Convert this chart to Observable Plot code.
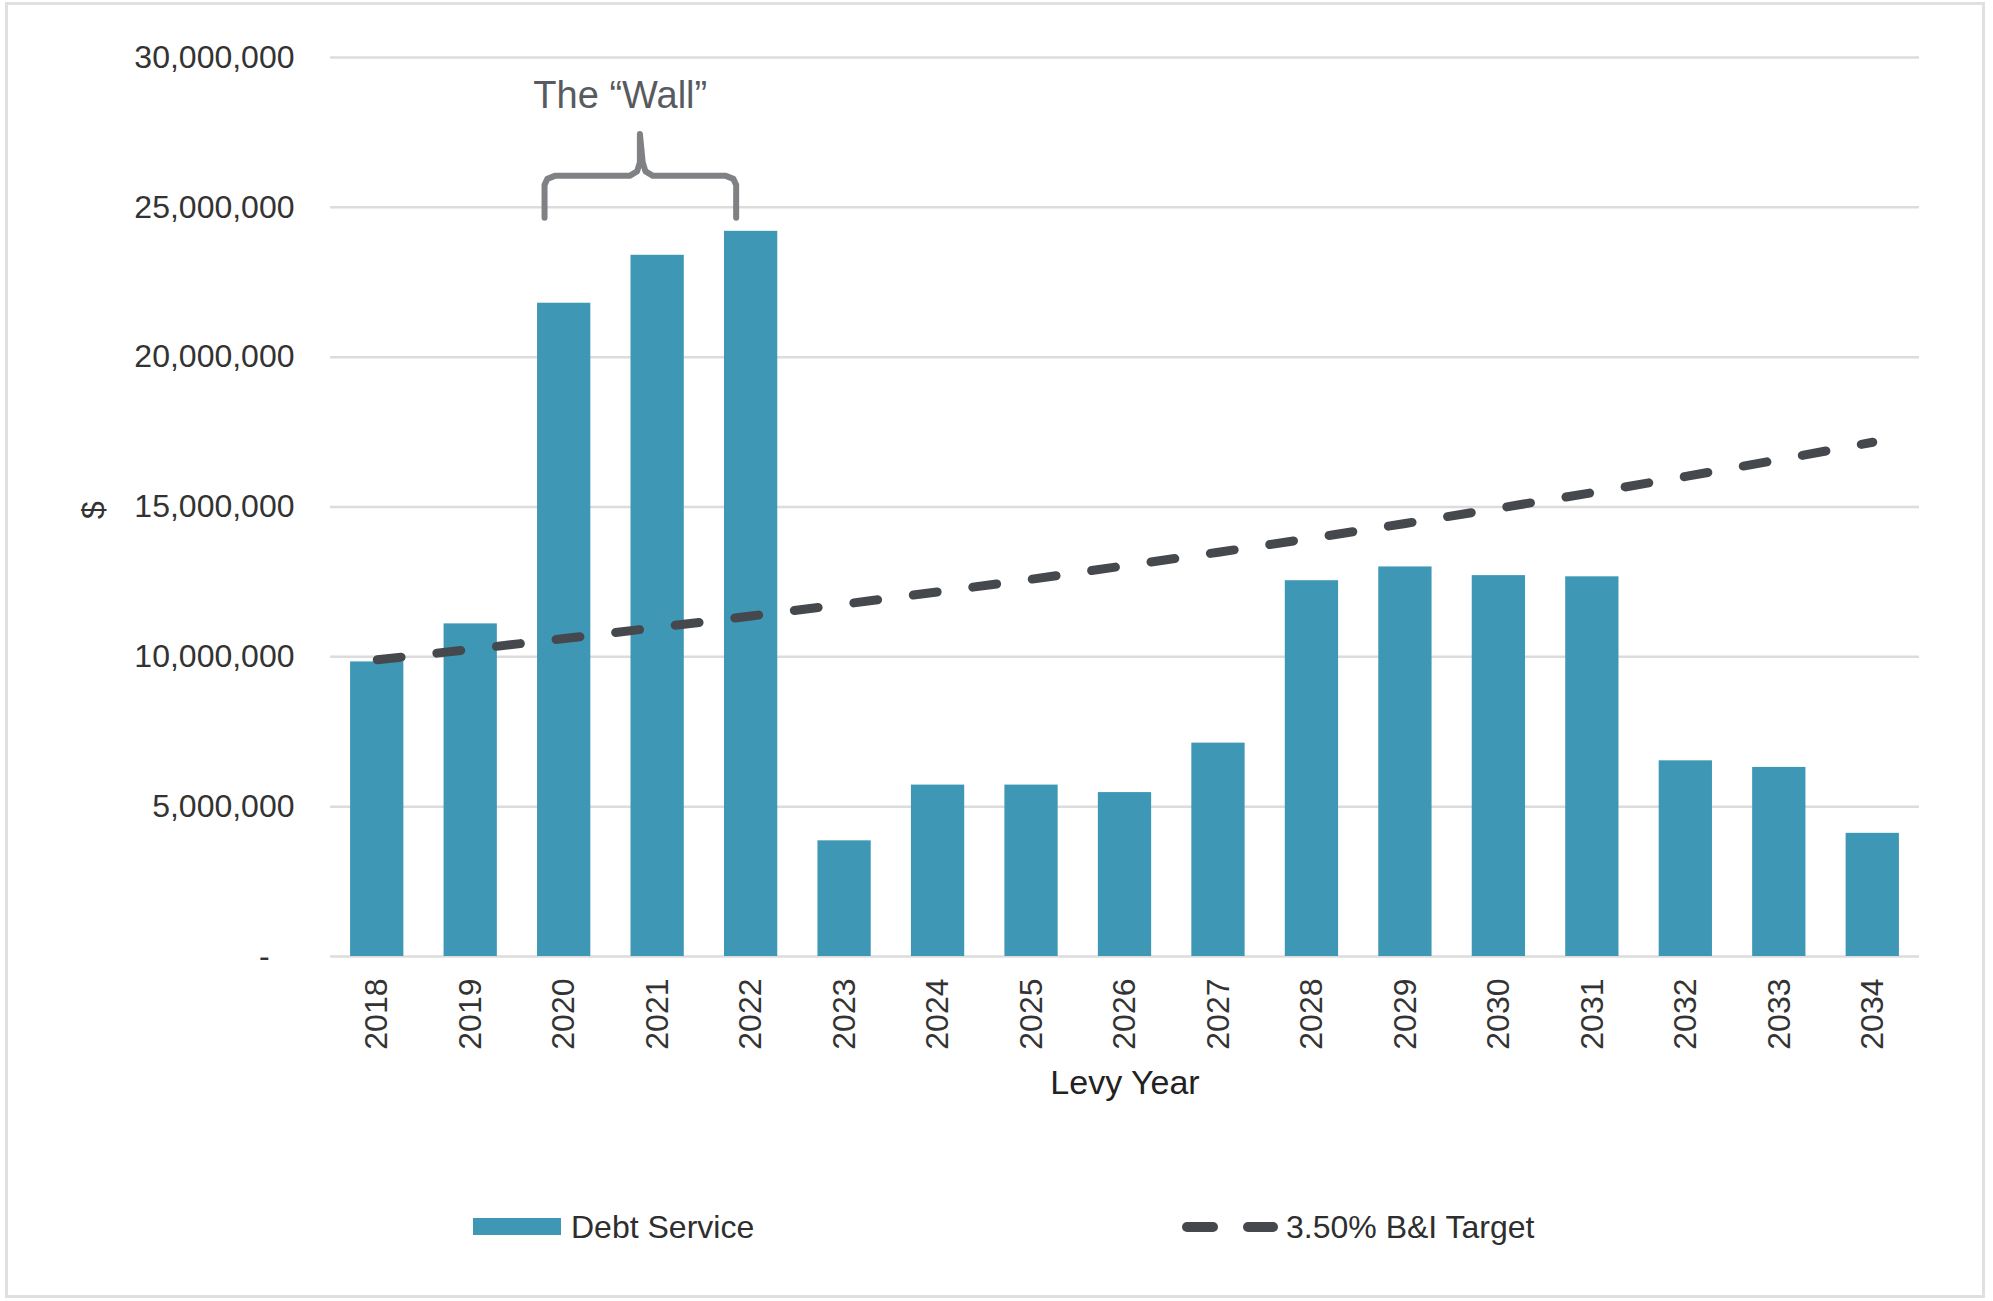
<!DOCTYPE html>
<html><head><meta charset="utf-8">
<script src="https://cdn.jsdelivr.net/npm/d3@7"></script>
<script src="https://cdn.jsdelivr.net/npm/@observablehq/plot@0.6"></script>
<style>
body{margin:0;background:#fff;font-family:"Liberation Sans",Arial,Helvetica,sans-serif;}
#wrap{position:relative;width:1993px;height:1301px;overflow:hidden;background:#fff;}
#frame{position:absolute;left:5px;top:2px;width:1980px;height:1296px;border:3px solid #e0e0e0;box-sizing:border-box;}
#chart{position:absolute;left:0;top:0;}
.legtext{position:absolute;font-size:32px;color:#2e2e2e;line-height:32px;white-space:nowrap;}
</style>
</head><body>
<div id="wrap"><div id="frame"></div><div id="chart"></div><div id="legend"></div></div>
<script>
const years = [2018,2019,2020,2021,2022,2023,2024,2025,2026,2027,2028,2029,2030,2031,2032,2033,2034];
const debtService = [9.83e6,11.1e6,21.8e6,23.4e6,24.2e6,3.86e6,5.72e6,5.72e6,5.47e6,7.12e6,12.54e6,13.0e6,12.71e6,12.67e6,6.53e6,6.31e6,4.11e6];
const targetBI = [9.9e6,10.25e6,10.61e6,10.98e6,11.36e6,11.76e6,12.17e6,12.59e6,13.04e6,13.49e6,13.96e6,14.45e6,14.96e6,15.48e6,16.02e6,16.58e6,17.16e6];
const yTicks = [0,5e6,10e6,15e6,20e6,25e6,30e6];
const seriesNames = ["Debt Service","3.50% B&I Target"];
const seriesColors = ["#3e97b5","#45494d"];
const xTitle = "Levy Year";
const yTitle = "$";
const annotation = [{x:2020.6, y:28.73e6, text:"The \u201CWall\u201D"}];
const braceX = [2019.79,2019.79,2019.82,2019.9,2020.70,2020.78,2020.81,2020.81,2020.84,2020.87,2020.95,2021.73,2021.81,2021.84,2021.84];
const braceY = [24.65e6,25.75e6,25.95e6,26.05e6,26.05e6,26.2e6,26.5e6,27.45e6,26.5e6,26.2e6,26.05e6,26.05e6,25.95e6,25.75e6,24.65e6];

const data = years.map((year,i)=>({year, debt:debtService[i], target:targetBI[i]}));
const brace = braceX.map((x,i)=>({x, y:braceY[i]}));
const halfBar = 0.285;
const fmt = d3.format(",");

const chart = Plot.plot({
  width:1993, height:1130,
  marginLeft:330, marginRight:74, marginTop:57, marginBottom:174,
  style:{fontFamily:'"Liberation Sans",Arial,Helvetica,sans-serif', fontSize:"32px", color:"#333", background:"transparent"},
  x:{domain:[2017.5,2034.5], axis:null},
  y:{domain:[0,30e6], axis:null},
  marks:[
    Plot.ruleY(yTicks, {stroke:"#dcdcdc", strokeWidth:2.5}),
    Plot.rectY(data, {x1:d=>d.year-halfBar, x2:d=>d.year+halfBar, y1:d=>0, y2:"debt", fill:seriesColors[0]}),
    Plot.line(data, {x:"year", y:"target", stroke:seriesColors[1], strokeWidth:9, strokeDasharray:"24,36", strokeLinecap:"round"}),
    Plot.axisY(yTicks, {tickSize:0, tickPadding:36, fontSize:32, tickFormat:d=>d===0?"-\u2002\u00a0":fmt(d)}),
    Plot.axisX(years, {tickSize:0, tickPadding:22, tickRotate:-90, fontSize:32, tickFormat:d=>String(d)}),
    Plot.text([yTitle], {frameAnchor:"left", dx:-237, dy:12, rotate:-90, fontSize:32, fill:"#333"}),
    Plot.text([xTitle], {frameAnchor:"bottom", dy:137, fontSize:34, fill:"#222"}),
    Plot.line(brace, {x:"x", y:"y", stroke:"#7f8185", strokeWidth:6, strokeLinejoin:"round"}),
    Plot.text(annotation, {x:"x", y:"y", text:"text", fontSize:38, fill:"#575b61"})
  ]
});
document.getElementById("chart").appendChild(chart);

// legend
const leg = document.getElementById("legend");
leg.innerHTML = `
<div style="position:absolute;left:473px;top:1218px;width:88px;height:17px;background:${seriesColors[0]}"></div>
<div class="legtext" style="left:571px;top:1211px">${seriesNames[0]}</div>
<svg style="position:absolute;left:1175px;top:1215px" width="110" height="24">
  <line x1="12" y1="12" x2="38" y2="12" stroke="${seriesColors[1]}" stroke-width="10" stroke-linecap="round"/>
  <line x1="73" y1="12" x2="98" y2="12" stroke="${seriesColors[1]}" stroke-width="10" stroke-linecap="round"/>
</svg>
<div class="legtext" style="left:1286px;top:1211px">${seriesNames[1].replace("&","&amp;")}</div>`;
</script>
</body></html>
